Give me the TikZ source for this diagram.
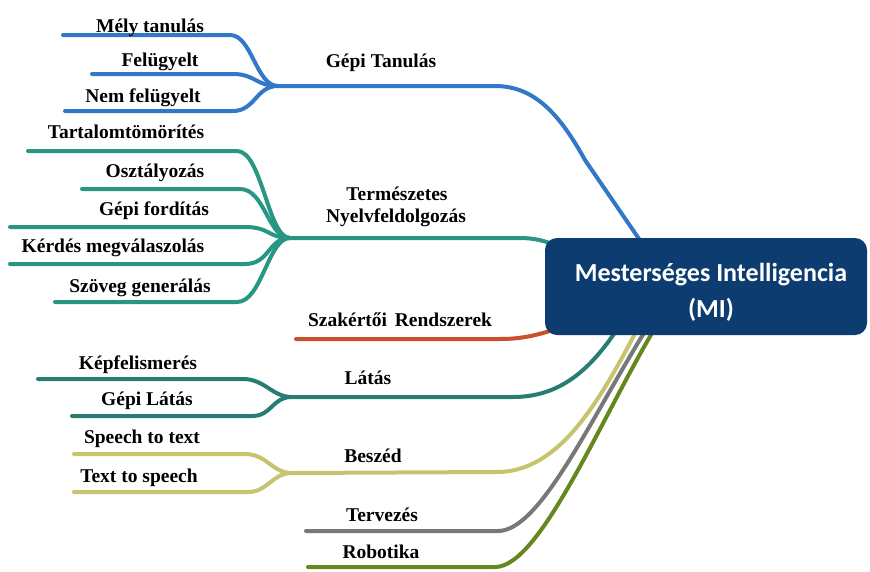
\documentclass[tikz,border=0pt]{standalone}
\usepackage{fontspec}
\setmainfont{Liberation Serif}
\newfontfamily\boxfont{Carlito}
\definecolor{cBlue}{RGB}{50,120,200}
\definecolor{cNlp}{RGB}{40,150,130}
\definecolor{cRed}{RGB}{200,80,45}
\definecolor{cVis}{RGB}{40,125,115}
\definecolor{cSpeech}{RGB}{200,195,110}
\definecolor{cGray}{RGB}{120,120,120}
\definecolor{cGreen}{RGB}{100,135,30}
\definecolor{cBox}{RGB}{12,60,112}
\tikzset{
  br/.style={line width=4pt, line cap=round},
  lbl/.style={font=\fontsize{19.5}{22}\selectfont\bfseries, inner sep=0pt, anchor=base, text=black},
  boxlbl/.style={font=\boxfont\bfseries\fontsize{26}{30}\selectfont, inner sep=0pt, anchor=base, text=white},
}
\begin{document}
\begin{tikzpicture}[x=1pt,y=-1pt]
\useasboundingbox (0,0) rectangle (870,571);
% hubs
\coordinate (hGT) at (278,86);
\coordinate (hNLP) at (290,238);
\coordinate (hVis) at (292,397);
\coordinate (hSp) at (292,473);
% ---- Gepi Tanulas branches
\coordinate (a0) at (63,35);   \coordinate (a1) at (230,35);
\coordinate (b0) at (92,74);   \coordinate (b1) at (233,74);
\coordinate (c0) at (65,111);  \coordinate (c1) at (233,111);
\draw[br,cBlue] (a0) -- (a1) .. controls +(22,0) and +(-22,0) .. (hGT);
\draw[br,cBlue] (b0) -- (b1) .. controls +(22,0) and +(-22,0) .. (hGT);
\draw[br,cBlue] (c0) -- (c1) .. controls +(22,0) and +(-22,0) .. (hGT);
% ---- NLP branches
\coordinate (d0) at (28,151);  \coordinate (d1) at (237,151);
\coordinate (e0) at (82,189);  \coordinate (e1) at (240,189);
\coordinate (f0) at (10,227);  \coordinate (f1) at (245,227);
\coordinate (g0) at (10,264);  \coordinate (g1) at (245,264);
\coordinate (h0) at (55,302);  \coordinate (h1) at (237,302);
\foreach \s/\t in {d0/d1,e0/e1,f0/f1,g0/g1,h0/h1}
  \draw[br,cNlp] (\s) -- (\t) .. controls +(25,0) and +(-22,0) .. (hNLP);
% ---- Vision branches
\coordinate (i0) at (38,379);  \coordinate (i1) at (243,379);
\coordinate (j0) at (72,416);  \coordinate (j1) at (252,416);
\draw[br,cVis] (i0) -- (i1) .. controls +(22,0) and +(-20,0) .. (hVis);
\draw[br,cVis] (j0) -- (j1) .. controls +(20,0) and +(-20,0) .. (hVis);
% ---- Speech branches
\coordinate (k0) at (74,454);  \coordinate (k1) at (245,454);
\coordinate (l0) at (74,492);  \coordinate (l1) at (248,492);
\draw[br,cSpeech] (k0) -- (k1) .. controls +(22,0) and +(-20,0) .. (hSp);
\draw[br,cSpeech] (l0) -- (l1) .. controls +(20,0) and +(-20,0) .. (hSp);
% ---- main branches into the central box
\coordinate (mGT) at (495,86);   \coordinate (eGT) at (648,252);
\coordinate (mNLP) at (520,238); \coordinate (eNLP) at (558,246);
\coordinate (sR) at (296,339);   \coordinate (mR) at (500,339);  \coordinate (eR) at (560,328);
\coordinate (mVis) at (513,397); \coordinate (eVis) at (618,328);
\coordinate (mSp) at (497,472);  \coordinate (eSp) at (638,328);
\coordinate (sT) at (306,531);   \coordinate (mT) at (498,531);  \coordinate (eT) at (647,328);
\coordinate (sRb) at (308,567);  \coordinate (mRb) at (495,567); \coordinate (eRb) at (655,328);
\draw[br,cBlue] (hGT) -- (mGT) .. controls (535,86) and (560,115) .. (585,160) -- (eGT);
\draw[br,cNlp] (hNLP) -- (mNLP) .. controls (535,238) and (545,241) .. (eNLP);
\draw[br,cRed] (sR) -- (mR) .. controls (525,339) and (540,334) .. (eR);
\draw[br,cVis] (hVis) -- (mVis) .. controls (560,397) and (590,370) .. (eVis);
\draw[br,cSpeech] (hSp) -- (mSp) .. controls (560,472) and (600,400) .. (eSp);
\draw[br,cGray] (sT) -- (mT) .. controls (540,531) and (590,420) .. (eT);
\draw[br,cGreen] (sRb) -- (mRb) .. controls (540,567) and (600,420) .. (eRb);
% ---- central box
\node[fill=cBox, rounded corners=12pt, minimum width=322pt, minimum height=97pt,
      inner sep=0pt] (mi) at (706,286.5) {};
\node[boxlbl] (miA) at (711,281) {Mesterséges Intelligencia};
\node[boxlbl] (miB) at (711,317) {(MI)};
% ---- labels
\node[lbl] (tMely) at (150,32) {Mély tanulás};
\node[lbl] (tFel) at (160,66) {Felügyelt};
\node[lbl] (tNem) at (143,102) {Nem felügyelt};
\node[lbl] (tGT) at (381,67) {Gépi Tanulás};
\node[lbl] (tTart) at (126,138) {Tartalomtömörítés};
\node[lbl] (tOszt) at (155,177) {Osztályozás};
\node[lbl] (tGF) at (154,215) {Gépi fordítás};
\node[lbl] (tKerd) at (113,252) {Kérdés megválaszolás};
\node[lbl] (tSzov) at (140,292) {Szöveg generálás};
\node[lbl] (tTerm) at (397,200) {Természetes};
\node[lbl] (tNyelv) at (396,222) {Nyelvfeldolgozás};
\node[lbl] (tSzak) at (400,326) {Szakértői\hspace{0.4em}Rendszerek};
\node[lbl] (tKep) at (138,369) {Képfelismerés};
\node[lbl] (tGL) at (147,405) {Gépi Látás};
\node[lbl] (tLat) at (368,384) {Látás};
\node[lbl] (tStt) at (142,443) {Speech to text};
\node[lbl] (tTts) at (139,482) {Text to speech};
\node[lbl] (tBesz) at (373,462) {Beszéd};
\node[lbl] (tTerv) at (382,521) {Tervezés};
\node[lbl] (tRob) at (381,558) {Robotika};
\end{tikzpicture}
\end{document}
